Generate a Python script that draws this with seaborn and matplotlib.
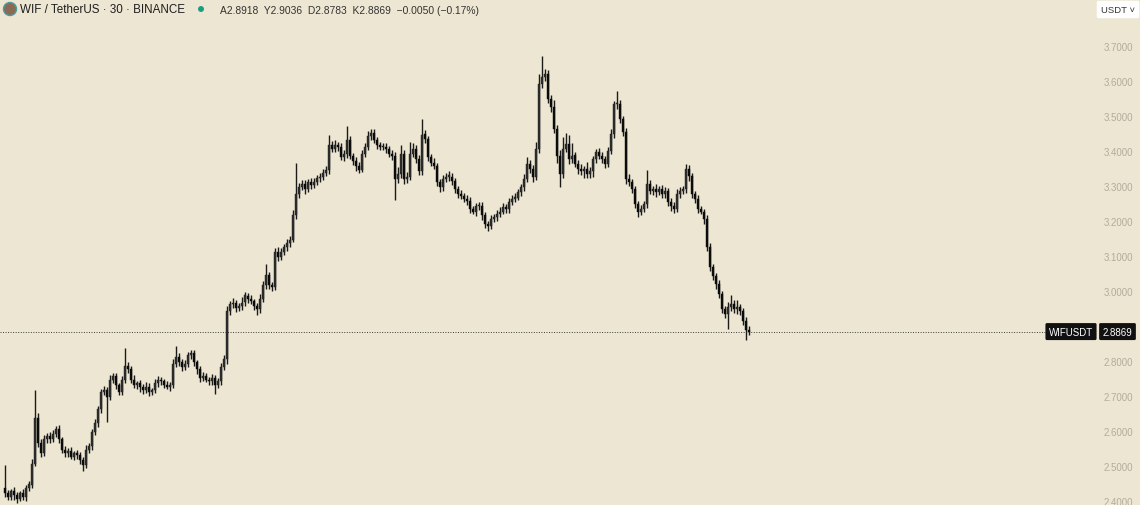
import numpy as np
import pandas as pd
import matplotlib
matplotlib.use("Agg")
import matplotlib.pyplot as plt
import matplotlib.patches as mpatches
import seaborn as sns

# ============================
# DATA (WIF/USDT 30m candles)
# ============================
first_open = 2.440
closes = [
    2.425, 2.415, 2.430, 2.420, 2.410, 2.425, 2.415, 2.440, 2.450, 2.510,
    2.640, 2.570, 2.540, 2.580, 2.590, 2.580, 2.595, 2.610, 2.580, 2.550,
    2.540, 2.545, 2.530, 2.540, 2.535, 2.520, 2.505, 2.550, 2.560, 2.600,
    2.625, 2.665, 2.715, 2.720, 2.700, 2.750, 2.760, 2.735, 2.715, 2.750,
    2.790, 2.780, 2.750, 2.735, 2.740, 2.730, 2.720, 2.730, 2.715, 2.720,
    2.740, 2.750, 2.745, 2.735, 2.730, 2.735, 2.795, 2.815, 2.800, 2.785,
    2.795, 2.820, 2.825, 2.800, 2.780, 2.755, 2.760, 2.750, 2.745, 2.755,
    2.735, 2.745, 2.785, 2.810, 2.945, 2.965, 2.970, 2.955, 2.960, 2.970,
    2.990, 2.980, 2.975, 2.960, 2.950, 2.980, 3.020, 3.050, 3.020, 3.015,
    3.115, 3.100, 3.115, 3.130, 3.140, 3.150, 3.220, 3.280, 3.300, 3.310,
    3.295, 3.315, 3.305, 3.315, 3.325, 3.330, 3.340, 3.350, 3.420, 3.410,
    3.420, 3.415, 3.385, 3.395, 3.435, 3.390, 3.375, 3.360, 3.350, 3.395,
    3.415, 3.445, 3.455, 3.435, 3.420, 3.415, 3.415, 3.410, 3.395, 3.390,
    3.323, 3.336, 3.395, 3.323, 3.330, 3.395, 3.410, 3.380, 3.345, 3.450,
    3.437, 3.385, 3.370, 3.360, 3.315, 3.300, 3.323, 3.330, 3.330, 3.317,
    3.294, 3.280, 3.275, 3.266, 3.260, 3.237, 3.230, 3.245, 3.246, 3.220,
    3.194, 3.190, 3.209, 3.214, 3.223, 3.230, 3.243, 3.237, 3.257, 3.266,
    3.270, 3.285, 3.300, 3.323, 3.366, 3.351, 3.330, 3.409, 3.594, 3.614,
    3.623, 3.551, 3.528, 3.466, 3.390, 3.337, 3.409, 3.423, 3.380, 3.390,
    3.366, 3.351, 3.345, 3.351, 3.337, 3.345, 3.380, 3.400, 3.390, 3.380,
    3.366, 3.403, 3.451, 3.537, 3.537, 3.494, 3.457, 3.323, 3.314, 3.294,
    3.251, 3.230, 3.237, 3.251, 3.309, 3.289, 3.294, 3.286, 3.294, 3.280,
    3.289, 3.257, 3.246, 3.237, 3.280, 3.289, 3.294, 3.351, 3.331, 3.280,
    3.266, 3.237, 3.230, 3.209, 3.129, 3.071, 3.046, 3.023, 2.994, 2.951,
    2.937, 2.957, 2.966, 2.951, 2.957, 2.946, 2.917, 2.8918, 2.8869,
]
# length of upper / lower wick beyond the body
wick_up = [
    .065, .010, .008, .012, .010, .006, .012, .008, .010, .012,
    .080, .015, .010, .012, .008, .010, .012, .008, .010, .006,
    .010, .008, .012, .006, .010, .008, .010, .012, .008, .010,
    .012, .010, .008, .012, .010, .012, .008, .010, .006, .010,
    .050, .010, .008, .012, .006, .010, .008, .012, .010, .006,
    .012, .010, .008, .006, .010, .008, .015, .030, .010, .008,
    .012, .010, .008, .010, .006, .010, .012, .008, .006, .010,
    .008, .010, .012, .010, .015, .010, .012, .008, .010, .015,
    .010, .008, .012, .006, .010, .015, .012, .030, .008, .010,
    .012, .015, .010, .008, .012, .010, .015, .090, .012, .010,
    .010, .008, .012, .010, .008, .010, .012, .010, .030, .012,
    .015, .010, .012, .010, .040, .010, .008, .010, .012, .010,
    .012, .015, .010, .012, .008, .010, .012, .010, .008, .010,
    .010, .020, .025, .010, .012, .035, .015, .010, .012, .045,
    .012, .010, .008, .012, .010, .008, .012, .010, .015, .010,
    .008, .010, .012, .008, .010, .012, .008, .010, .012, .010,
    .008, .010, .012, .008, .010, .012, .010, .008, .012, .010,
    .012, .010, .008, .015, .020, .010, .012, .020, .030, .060,
    .015, .010, .012, .020, .010, .015, .035, .030, .025, .035,
    .010, .012, .015, .010, .020, .012, .010, .008, .012, .010,
    .008, .012, .015, .010, .037, .012, .010, .012, .015, .010,
    .010, .008, .012, .010, .040, .012, .010, .015, .010, .012,
    .010, .008, .012, .010, .015, .012, .010, .015, .012, .010,
    .008, .012, .010, .008, .010, .012, .010, .008, .012, .010,
    .010, .015, .025, .012, .020, .010, .008, .012, .0118,
]
wick_dn = [
    .012, .010, .008, .015, .012, .008, .010, .012, .008, .010,
    .008, .012, .010, .008, .012, .010, .008, .010, .012, .010,
    .010, .012, .008, .010, .012, .010, .015, .008, .010, .012,
    .008, .010, .012, .010, .070, .008, .010, .012, .010, .008,
    .010, .012, .010, .008, .012, .015, .010, .008, .012, .010,
    .008, .010, .012, .010, .008, .012, .010, .008, .012, .010,
    .008, .010, .012, .010, .015, .012, .010, .008, .012, .010,
    .025, .010, .012, .008, .015, .012, .010, .012, .008, .010,
    .010, .012, .008, .010, .015, .010, .008, .012, .010, .012,
    .010, .012, .008, .010, .012, .010, .008, .010, .012, .008,
    .015, .010, .012, .008, .010, .012, .010, .008, .012, .010,
    .010, .012, .008, .010, .012, .010, .012, .015, .010, .008,
    .010, .008, .012, .010, .012, .010, .008, .012, .010, .012,
    .060, .012, .010, .015, .012, .010, .008, .012, .010, .010,
    .010, .012, .010, .008, .012, .015, .010, .008, .012, .010,
    .010, .012, .008, .010, .012, .010, .008, .012, .010, .015,
    .012, .015, .010, .008, .012, .010, .008, .012, .010, .008,
    .010, .008, .012, .010, .008, .012, .015, .010, .012, .010,
    .012, .010, .015, .012, .020, .037, .012, .010, .015, .012,
    .010, .015, .012, .020, .012, .010, .015, .012, .010, .012,
    .012, .010, .008, .012, .015, .010, .012, .015, .012, .010,
    .012, .015, .010, .008, .012, .010, .012, .015, .010, .012,
    .010, .012, .015, .010, .008, .012, .010, .012, .015, .010,
    .012, .010, .008, .015, .012, .010, .012, .015, .010, .012,
    .012, .043, .010, .012, .015, .012, .010, .029, .0086,
]
# 2.9000 sits under the last-price tag in the reference, so it is left out
price_ticks = [2.4, 2.5, 2.6, 2.7, 2.8, 3.0, 3.1, 3.2, 3.3, 3.4, 3.5, 3.6, 3.7]
last_price = 2.8869
header = "WIF / TetherUS · 30 · BINANCE"
ohlc_text = "A2.8918  Y2.9036  D2.8783  K2.8869  −0.0050 (−0.17%)"

# ============================
# BUILD OHLC TABLE
# ============================
df = pd.DataFrame({"close": closes})
df["open"] = [first_open] + closes[:-1]
df["high"] = df[["open", "close"]].max(axis=1) + np.array(wick_up)
df["low"] = df[["open", "close"]].min(axis=1) - np.array(wick_dn)
df["idx"] = np.arange(len(df))

# ============================
# FIGURE
# ============================
bg = "#ede6d3"
sns.set_style("white", rc={"axes.facecolor": bg, "figure.facecolor": bg})
plt.rcParams["font.family"] = ["Liberation Sans", "DejaVu Sans"]

W, H = 1140, 506
fig = plt.figure(figsize=(W / 100, H / 100), dpi=100)
ax = fig.add_axes([0, 0, 1, 1])
ax.set_facecolor(bg)

# pixel -> data mapping: candle i at x = 5 + 3 i px, 35 px per 0.1
ax.set_xlim(-5 / 3, (W - 5) / 3)
ax.set_ylim(3.7 - (H - 48) / 350, 3.7 + 48 / 350)
for s in ax.spines.values():
    s.set_visible(False)
ax.set_xticks([])
ax.set_yticks([])

up = df["close"] >= df["open"]
ax.vlines(df["idx"], df["low"], df["high"], color="#1a1a1a", lw=1.0, zorder=2)
body = (df["close"] - df["open"]).abs().clip(lower=0.003)
bottom = df[["open", "close"]].min(axis=1)
ax.bar(df["idx"][up], body[up], bottom=bottom[up], width=0.85,
       color="#2f2f2f", edgecolor="#1a1a1a", linewidth=0.3, zorder=3)
ax.bar(df["idx"][~up], body[~up], bottom=bottom[~up], width=0.85,
       color="#0b0b0b", edgecolor="#0b0b0b", linewidth=0.3, zorder=3)

# last price dotted line
ax.axhline(last_price, xmin=0, xmax=1047 / W, color="#3a3a3a",
           lw=0.7, ls=(0, (1, 1.6)), zorder=1)

# price scale labels
ytr = ax.get_yaxis_transform()
for p in price_ticks:
    ax.text(1133 / W, p, f"{p:.4f}", transform=ytr,
            ha="right", va="center", fontsize=7, color="#b3ac9c")

# price tag
tag_box = dict(boxstyle="round,pad=0.36,rounding_size=0.15", fc="#111111", ec="none")
ax.text(1071 / W, last_price, "WIFUSDT", transform=ytr, ha="center", va="center",
        fontsize=7.0, color="white", zorder=6, bbox=tag_box)
ax.text(1117.5 / W, last_price, f"{last_price:.4f}", transform=ytr, ha="center", va="center",
        fontsize=7.0, color="white", zorder=6, bbox=tag_box)

# header
fig.patches.append(mpatches.Ellipse((10 / W, 1 - 10 / H), 13 / W, 13 / H, transform=fig.transFigure,
                                    fc="#8a6a55", ec="#4a9aa0", lw=1.0))
fig.text(20 / W, 1 - 10 / H, header, ha="left", va="center", fontsize=8.4, color="#1e1e1e")
fig.patches.append(mpatches.Ellipse((201 / W, 1 - 10 / H), 6 / W, 6 / H, transform=fig.transFigure,
                                    fc="#1b9e84", ec="none"))
fig.text(220 / W, 1 - 10.5 / H, ohlc_text, ha="left", va="center", fontsize=7.4, color="#333333")

# currency button
fig.text(1118 / W, 1 - 10.5 / H, "USDT ˅", ha="center", va="center", fontsize=6.8,
         color="#333333",
         bbox=dict(boxstyle="round,pad=0.45,rounding_size=0.2", fc="white", ec="none"))

fig.savefig("out.png", dpi=100, facecolor=bg)
